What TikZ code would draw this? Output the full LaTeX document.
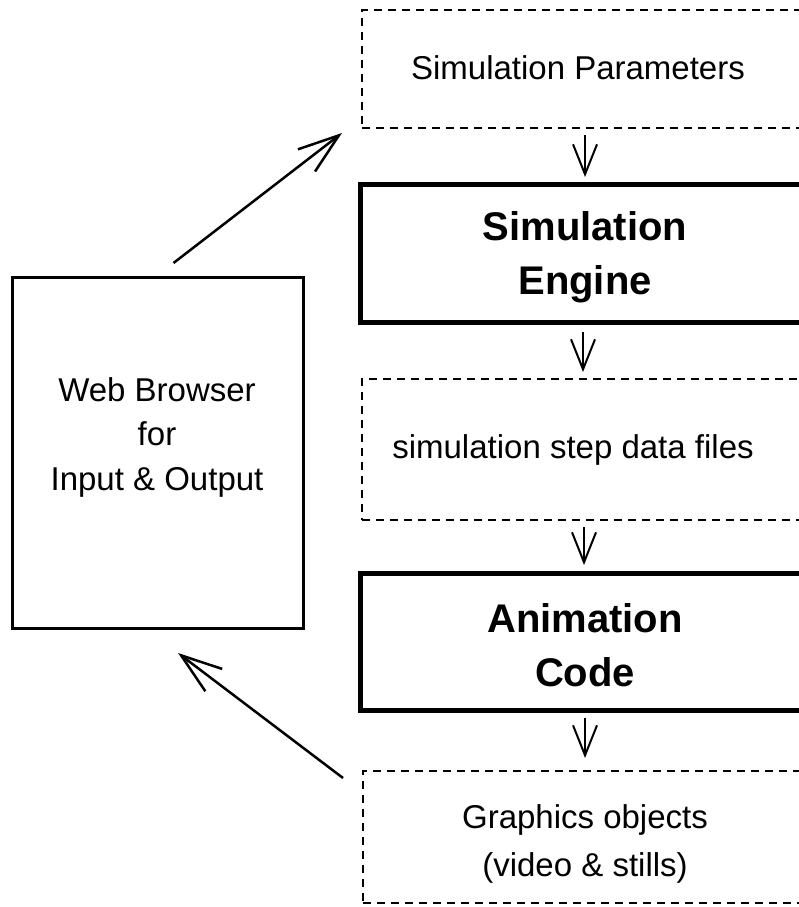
\documentclass[tikz,border=0pt]{standalone}
\usepackage{fontspec}
\setmainfont{Liberation Sans}
\usepackage{tikz}
\usetikzlibrary{positioning,arrows.meta,shapes}

\tikzset{
    dashbox/.style={draw, dashed, dash pattern=on 8pt off 6pt, line width=2pt, inner sep=0pt, outer sep=0pt},
    boldbox/.style={draw, line width=5pt, inner sep=0pt, outer sep=0pt},
    plainbox/.style={draw, line width=3pt, inner sep=0pt, outer sep=0pt},
    txt/.style={inner sep=0pt, align=center, font=\fontsize{33}{44.5}\selectfont},
    boldtxt/.style={inner sep=0pt, align=center, font=\fontsize{40}{54}\selectfont\bfseries},
    stepflow/.style={line width=2pt, -{Straight Barb[length=30pt,width=24pt]}},
    loopflow/.style={line width=2.5pt, -{Straight Barb[length=41pt,width=28pt]}}
}

\begin{document}
\begin{tikzpicture}[x=1pt, y=-1pt]
                            \useasboundingbox (0,0) rectangle (799,907);
                            \clip (0,0) rectangle (799,907);
                            % boxes
                            \node[dashbox, minimum width=448pt, minimum height=118pt] (params) at (586,69) {};
                            \node[boldbox, minimum width=450pt, minimum height=138pt] (engine) at (585,253) {};
                            \node[dashbox, minimum width=448pt, minimum height=141pt] (data) at (586,449.5) {};
                            \node[boldbox, minimum width=450pt, minimum height=137pt] (anim) at (585,641.5) {};
                            \node[dashbox, minimum width=447pt, minimum height=132pt] (gfx) at (586.5,837) {};
                            \node[plainbox, minimum width=291pt, minimum height=351pt] (web) at (157.5,452.5) {};
                            % texts
                            \node[txt] (paramstxt) at (578,68) {Simulation Parameters};
                            \node[boldtxt] (enginetxt) at (585,257) {Simulation\\Engine};
                            \node[txt] (datatxt) at (573,450) {simulation step data files};
                            \node[boldtxt] (animtxt) at (585,645) {Animation\\Code};
                            \node[txt, font=\fontsize{33}{48}\selectfont] (gfxtxt) at (585,844) {Graphics objects\\(video \& stills)};
                            \node[txt] (webtxt) at (157,437) {Web Browser\\for\\Input \& Output};
                            % steps
                            \draw[stepflow, shorten <=7pt, shorten >=7pt] ([xshift=-1pt]params.south) -- ([xshift=-1pt]params.south |- engine.north);
                            \draw[stepflow, shorten <=10pt, shorten >=7pt] ([xshift=-2pt]engine.south) -- ([xshift=-2pt]engine.south |- data.north);
                            \draw[stepflow, shorten <=7pt, shorten >=8pt] ([xshift=-2pt]data.south) -- ([xshift=-2pt]data.south |- anim.north);
                            \draw[stepflow, shorten <=8pt, shorten >=13pt] (anim.south) -- (anim.south |- gfx.north);
                            % browser loop
                            \draw[loopflow] ([shift={(16pt,14pt)}]web.north) -- ([shift={(-20pt,-5pt)}]params.south west);
                            \draw[loopflow] ([shift={(-20pt,-7pt)}]gfx.north west) -- ([shift={(20.5pt,-25pt)}]web.south);
                        \end{tikzpicture}
\end{document}
